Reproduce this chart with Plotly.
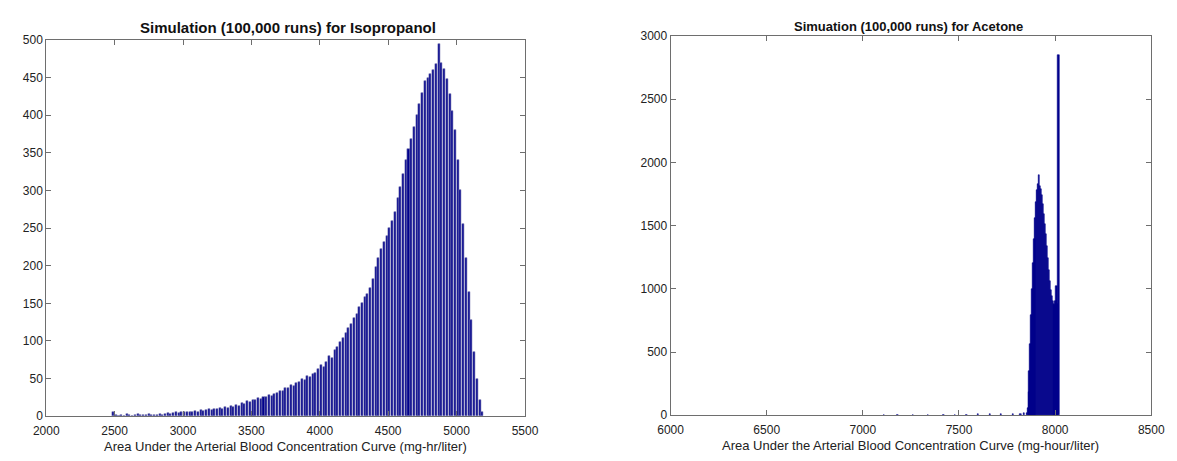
import plotly.graph_objects as go

W, H = 1177, 461

# ---------------- Data ----------------
# Isopropanol histogram: bin width 20, first bin centre 2490
iso_bin_start = 2490
iso_bin_width = 20
iso_counts = [
    5, 1, 0, 1, 0, 3, 1, 0, 1, 3,
    1, 1, 2, 3, 1, 2, 2, 3, 2, 3,
    4, 3, 4, 5, 4, 6, 5, 6, 6, 5,
    7, 6, 8, 7, 8, 9, 8, 10, 9, 11,
    10, 12, 11, 13, 12, 15, 14, 17, 16, 20,
    19, 22, 21, 24, 23, 26, 25, 28, 27, 30,
    31, 34, 33, 37, 38, 41, 40, 44, 45, 49,
    48, 53, 52, 56, 58, 63, 68, 65, 72, 80,
    78, 88, 92, 98, 104, 110, 117, 122, 130, 136,
    145, 150, 158, 163, 170, 182, 198, 210, 222, 232,
    240, 250, 260, 272, 290, 305, 322, 340, 355, 368,
    385, 400, 415, 430, 445, 450, 455, 460, 468, 495,
    470, 462, 448, 428, 405, 380, 340, 300, 255, 210,
    165, 128, 85, 50, 22, 5,
]
iso_x = [iso_bin_start + i * iso_bin_width for i in range(len(iso_counts))]

# Acetone histogram: tail (sparse) + main hump, bin width 5
ace_tail_x = [7110, 7180, 7260, 7340, 7420, 7480, 7540, 7600, 7660, 7720, 7780, 7820, 7840]
ace_tail_y = [2, 1, 2, 2, 3, 3, 4, 5, 6, 7, 9, 12, 15]
ace_bin_start = 7852.5
ace_bin_width = 5
ace_counts = [
    20, 60, 180, 350, 560, 790, 1000, 1200, 1390, 1560,
    1690, 1780, 1830, 1900, 1810, 1790, 1740, 1670, 1590, 1510,
    1430, 1340, 1240, 1150, 1060, 990, 940, 900, 880, 870,
    900, 1020, 880, 2850,
]
ace_x = ace_tail_x + [ace_bin_start + i * ace_bin_width for i in range(len(ace_counts))]
ace_y = ace_tail_y + ace_counts

iso_xticks = [2000, 2500, 3000, 3500, 4000, 4500, 5000, 5500]
iso_yticks = [0, 50, 100, 150, 200, 250, 300, 350, 400, 450, 500]
ace_xticks = [6000, 6500, 7000, 7500, 8000, 8500]
ace_yticks = [0, 500, 1000, 1500, 2000, 2500, 3000]

title_left = "Simulation (100,000 runs) for Isopropanol"
title_right = "Simuation (100,000 runs) for Acetone"
xlabel_left = "Area Under the Arterial Blood Concentration Curve (mg-hr/liter)"
xlabel_right = "Area Under the Arterial Blood Concentration Curve (mg-hour/liter)"

# ---------------- Figure ----------------
FONT = "Liberation Sans, Arial, sans-serif"
NAVY = "#00008c"
EDGE = "rgb(120,120,178)"

fig = go.Figure()
fig.add_trace(go.Bar(
    x=iso_x, y=iso_counts, width=iso_bin_width * 0.74,
    marker=dict(color=NAVY, line=dict(color=EDGE, width=0.6)),
    xaxis="x", yaxis="y", showlegend=False, hoverinfo="x+y",
))
fig.add_trace(go.Bar(
    x=ace_x, y=ace_y, width=ace_bin_width * 1.3,
    marker=dict(color=NAVY, line=dict(color=NAVY, width=0.6)),
    xaxis="x2", yaxis="y2", showlegend=False, hoverinfo="x+y",
))

def px_x(p):
    return p / W

def px_y(p):
    return 1 - p / H

axis_common = dict(
    showline=True, linecolor="#6e6e6e", linewidth=1, mirror="ticks",
    ticks="inside", ticklen=5, tickcolor="#6e6e6e", tickwidth=1,
    showgrid=False, zeroline=False,
    tickfont=dict(family=FONT, size=12, color="#222222"),
)

fig.update_layout(
    width=W, height=H,
    margin=dict(l=0, r=0, t=0, b=0),
    paper_bgcolor="white", plot_bgcolor="white",
    bargap=0,
    xaxis=dict(domain=[px_x(34), px_x(524)], range=[2000, 5500],
               tickvals=iso_xticks, anchor="y", ticklabelstandoff=3, **axis_common),
    yaxis=dict(domain=[px_y(422), px_y(34)], range=[0, 500],
               tickvals=iso_yticks, anchor="x", **axis_common),
    xaxis2=dict(domain=[px_x(673), px_x(1165)], range=[6000, 8500],
                tickvals=ace_xticks, anchor="y2", ticklabelstandoff=3, **axis_common),
    yaxis2=dict(domain=[px_y(421), px_y(30)], range=[0, 3000],
                tickvals=ace_yticks, anchor="x2", **axis_common),
    annotations=[
        dict(text="<b>" + title_left + "</b>", x=px_x(281), y=px_y(21),
             xref="paper", yref="paper", xanchor="center", yanchor="middle",
             showarrow=False, font=dict(family=FONT, size=15, color="#111111")),
        dict(text="<b>" + title_right + "</b>", x=px_x(917), y=px_y(20),
             xref="paper", yref="paper", xanchor="center", yanchor="middle",
             showarrow=False, font=dict(family=FONT, size=13, color="#111111")),
        dict(text=xlabel_left, x=px_x(279), y=px_y(453),
             xref="paper", yref="paper", xanchor="center", yanchor="middle",
             showarrow=False, font=dict(family=FONT, size=13, color="#222222")),
        dict(text=xlabel_right, x=px_x(919), y=px_y(452),
             xref="paper", yref="paper", xanchor="center", yanchor="middle",
             showarrow=False, font=dict(family=FONT, size=13, color="#222222")),
    ],
)

fig.write_html("out.html")
